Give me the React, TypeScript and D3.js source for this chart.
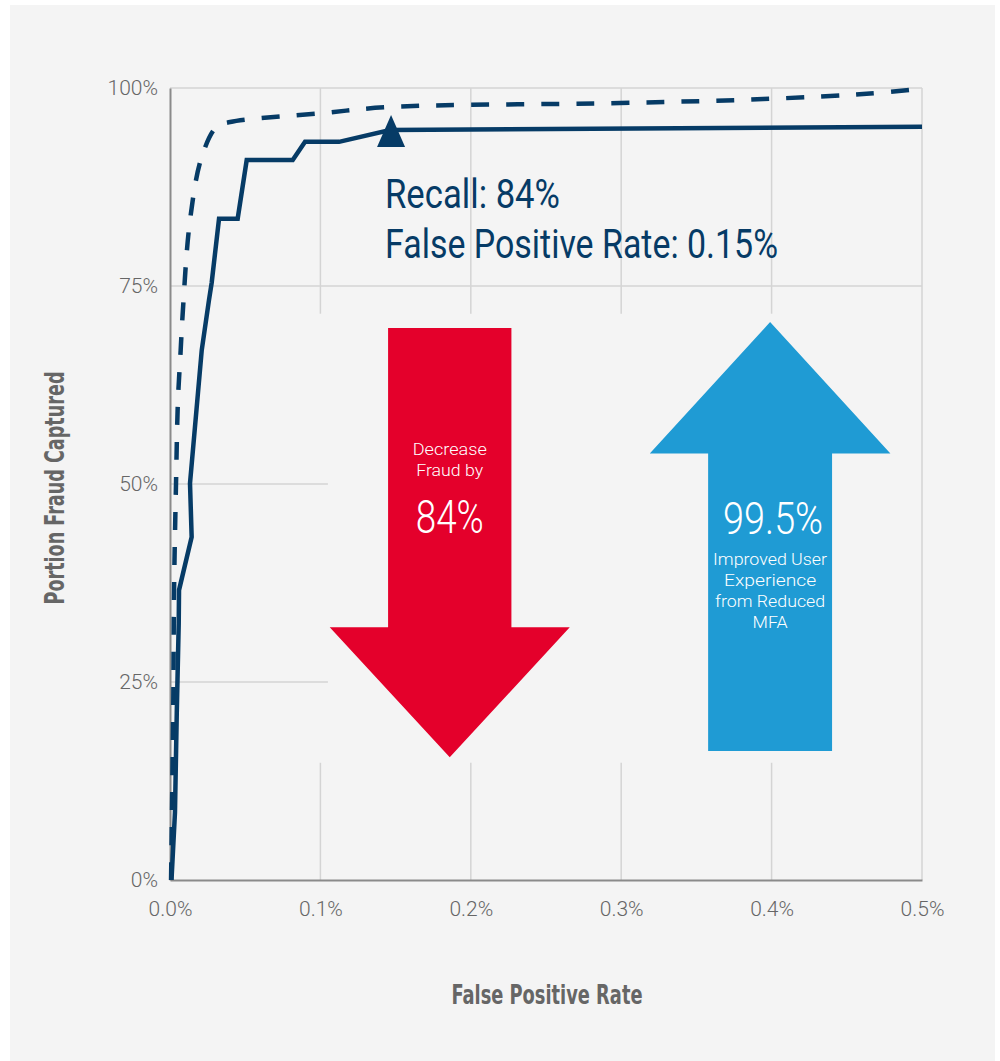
import React, { useRef, useEffect } from 'react';
import * as d3 from 'd3';

// axis ticks (percent units)
const fprTicks = [0, 0.1, 0.2, 0.3, 0.4, 0.5];
const recallTicks = [0, 25, 50, 75, 100];

// solid curve: selected model
const solidFpr = [0.001, 0.0033, 0.0045, 0.0058, 0.006, 0.0144, 0.0133, 0.0211, 0.0259, 0.0277, 0.0326, 0.045, 0.051, 0.0816, 0.0898, 0.1124, 0.1463, 0.5];
const solidRecall = [0, 8.5, 21.1, 32.4, 36.6, 43.3, 50.1, 66.9, 73.2, 75.4, 83.5, 83.5, 90.9, 90.9, 93.2, 93.2, 94.7, 95.1];

// dashed curve
const dashedFpr = [0.0007, 0.0013, 0.0022, 0.0027, 0.004, 0.0053, 0.0071, 0.0083, 0.0133, 0.0211, 0.031, 0.04, 0.0997, 0.1463, 0.2992, 0.3943, 0.4654, 0.5];
const dashedRecall = [0, 8.5, 22.7, 36.6, 50.1, 60.6, 66.9, 71.1, 83.3, 91.3, 95.1, 95.7, 96.8, 97.6, 98.1, 98.6, 99.3, 99.9];

// operating point
const opFpr = 0.147;
const opRecall = 94.7;

// arrows, in chart units
const redArrow = { cx: 0.186, shaftHalf: 0.041, headHalf: 0.0798, top: 69.7, headBase: 31.9, tip: 15.5 };
const blueArrow = { cx: 0.399, shaftHalf: 0.0412, headHalf: 0.08, tip: 70.45, headBase: 53.85, bottom: 16.3 };

// where the gridlines are left out around the arrows
const gridGapTop = 71.5;
const gridGapBottom = 14.8;
const shortGridEnd = 0.105;

const NAVY = '#063b66';
const RED = '#e4002b';
const BLUE = '#1f9bd4';

export default function App() {
  const xAxisRef = useRef<SVGGElement>(null);
  const yAxisRef = useRef<SVGGElement>(null);

  const x = d3.scaleLinear().domain([0, 0.5]).range([170, 922]);
  const y = d3.scaleLinear().domain([0, 100]).range([880, 88]);

  useEffect(() => {
    const xa = d3.select(xAxisRef.current!);
    xa.call(
      d3.axisBottom(x).tickValues(fprTicks).tickSize(0).tickSizeOuter(0).tickPadding(21)
        .tickFormat(d => `${(+d).toFixed(1)}%`)
    );
    const ya = d3.select(yAxisRef.current!);
    ya.call(
      d3.axisLeft(y).tickValues(recallTicks).tickSize(0).tickSizeOuter(0).tickPadding(12)
        .tickFormat(d => `${d}%`)
    );
    [xa, ya].forEach(a => {
      a.select('.domain').attr('stroke', '#8a8a8a').attr('stroke-width', 2);
      a.selectAll('text')
        .attr('fill', '#666')
        .style('font-family', 'Roboto, sans-serif')
        .style('font-weight', 300)
        .style('font-size', '21px');
    });
  }, []);

  const solidLine = d3.line<number>()
    .x((d, i) => x(solidFpr[i]))
    .y(d => y(d))
    .curve(d3.curveLinear);

  const dashedLine = d3.line<number>()
    .x((d, i) => x(dashedFpr[i]))
    .y(d => y(d))
    .curve(d3.curveCatmullRom.alpha(0.5));

  const downArrow = (a: typeof redArrow) => {
    const p = d3.path();
    p.moveTo(x(a.cx - a.shaftHalf), y(a.top));
    p.lineTo(x(a.cx + a.shaftHalf), y(a.top));
    p.lineTo(x(a.cx + a.shaftHalf), y(a.headBase));
    p.lineTo(x(a.cx + a.headHalf), y(a.headBase));
    p.lineTo(x(a.cx), y(a.tip));
    p.lineTo(x(a.cx - a.headHalf), y(a.headBase));
    p.lineTo(x(a.cx - a.shaftHalf), y(a.headBase));
    p.closePath();
    return p.toString();
  };

  const upArrow = (a: typeof blueArrow) => {
    const p = d3.path();
    p.moveTo(x(a.cx), y(a.tip));
    p.lineTo(x(a.cx + a.headHalf), y(a.headBase));
    p.lineTo(x(a.cx + a.shaftHalf), y(a.headBase));
    p.lineTo(x(a.cx + a.shaftHalf), y(a.bottom));
    p.lineTo(x(a.cx - a.shaftHalf), y(a.bottom));
    p.lineTo(x(a.cx - a.shaftHalf), y(a.headBase));
    p.lineTo(x(a.cx - a.headHalf), y(a.headBase));
    p.closePath();
    return p.toString();
  };

  const px = x(opFpr);
  const py = y(opRecall);
  const marker = `M${px},${py - 15}L${px + 14},${py + 17}L${px - 14},${py + 17}Z`;

  const redX = x(redArrow.cx);
  const blueX = x(blueArrow.cx);
  const light = { fontFamily: 'Roboto, sans-serif', fontWeight: 300 } as const;

  return (
    <div style={{ position: 'absolute', left: 0, top: 0 }}>
      <svg width={1000} height={1061} style={{ display: 'block' }}>
        <rect x={0} y={0} width={1000} height={1061} fill="#fff" />
        <rect x={10} y={5} width={985} height={1056} fill="#f4f4f4" />

        {/* gridlines */}
        <g stroke="#d4d4d4" strokeWidth={1.5}>
          {fprTicks.filter(t => t > 0 && t < 0.5).map(t => (
            <g key={t}>
              <line x1={x(t)} x2={x(t)} y1={y(100)} y2={y(gridGapTop)} />
              <line x1={x(t)} x2={x(t)} y1={y(gridGapBottom)} y2={y(0)} />
            </g>
          ))}
          <line x1={x(0.5)} x2={x(0.5)} y1={y(100)} y2={y(0)} />
          {recallTicks.filter(t => t > 0).map(t => (
            <line key={t} x1={x(0)} x2={t >= 75 ? x(0.5) : x(shortGridEnd)} y1={y(t)} y2={y(t)} />
          ))}
        </g>

        <g ref={xAxisRef} transform={`translate(0,${y(0)})`} />
        <g ref={yAxisRef} transform={`translate(${x(0)},0)`} />

        {/* arrows */}
        <path d={downArrow(redArrow)} fill={RED} />
        <path d={upArrow(blueArrow)} fill={BLUE} />

        <g fill="#fff" textAnchor="middle" style={light}>
          <text x={redX} y={455} fontSize={16} textLength={74} lengthAdjust="spacingAndGlyphs">Decrease</text>
          <text x={redX} y={476} fontSize={16} textLength={67} lengthAdjust="spacingAndGlyphs">Fraud by</text>
          <text x={redX} y={533} fontSize={46} textLength={68} lengthAdjust="spacingAndGlyphs">84%</text>

          <text x={blueX + 3} y={534} fontSize={45} textLength={100} lengthAdjust="spacingAndGlyphs">99.5%</text>
          <text x={blueX} y={565} fontSize={16} textLength={114} lengthAdjust="spacingAndGlyphs">Improved User</text>
          <text x={blueX} y={586} fontSize={16} textLength={92} lengthAdjust="spacingAndGlyphs">Experience</text>
          <text x={blueX} y={607} fontSize={16} textLength={110} lengthAdjust="spacingAndGlyphs">from Reduced</text>
          <text x={blueX} y={628} fontSize={16} textLength={35} lengthAdjust="spacingAndGlyphs">MFA</text>
        </g>

        {/* curves */}
        <path d={dashedLine(dashedRecall) || ''} fill="none" stroke={NAVY} strokeWidth={4.5} strokeDasharray="18 17" />
        <path d={solidLine(solidRecall) || ''} fill="none" stroke={NAVY} strokeWidth={4.5} strokeLinejoin="miter" />
        <path d={marker} fill={NAVY} />

        {/* annotation */}
        <g fill={NAVY} style={{ fontFamily: 'Roboto, sans-serif', fontWeight: 400 }}>
          <text x={385} y={208} fontSize={41} textLength={175} lengthAdjust="spacingAndGlyphs">Recall: 84%</text>
          <text x={385} y={258} fontSize={41} textLength={393} lengthAdjust="spacingAndGlyphs">False Positive Rate: 0.15%</text>
        </g>

        {/* axis titles */}
        <g fill="#666" textAnchor="middle" style={{ fontFamily: '"Liberation Sans Narrow", "DejaVu Sans Condensed", sans-serif', fontWeight: 700 }}>
          <text x={547} y={1004} fontSize={26} textLength={191} lengthAdjust="spacingAndGlyphs">False Positive Rate</text>
          <text transform="translate(64,488) rotate(-90)" fontSize={26} textLength={233} lengthAdjust="spacingAndGlyphs">Portion Fraud Captured</text>
        </g>
      </svg>
    </div>
  );
}
